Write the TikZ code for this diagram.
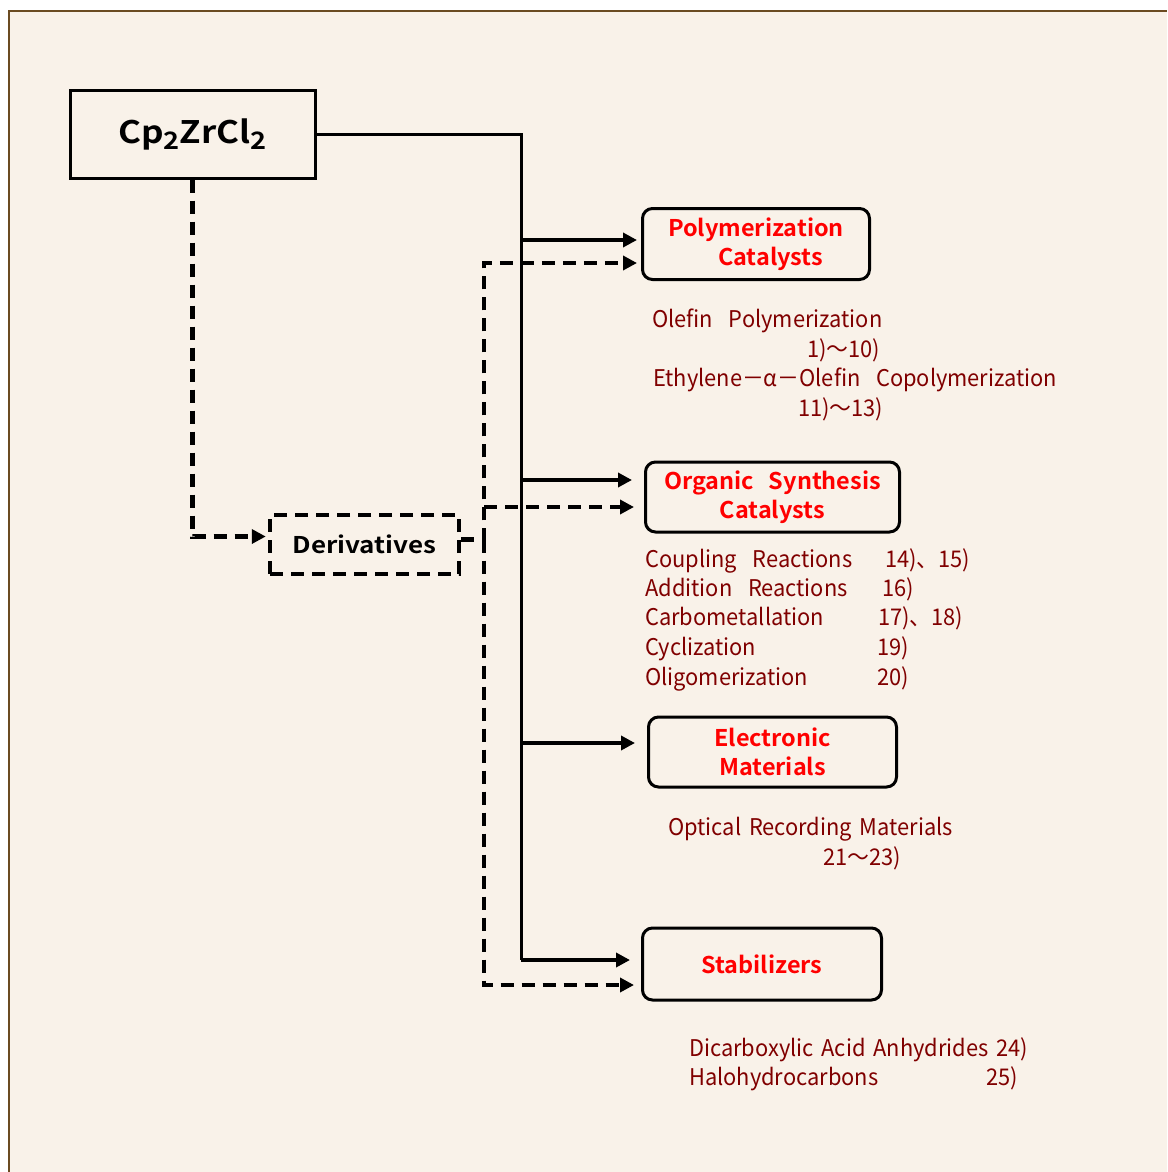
\documentclass[tikz,border=0pt]{standalone}
\usepackage{fontspec}
\setmainfont{Noto Sans CJK JP}[FakeStretch=0.95,WordSpace=1.6]
\newfontfamily\redbold{Noto Sans CJK JP Bold}[FakeStretch=1.02,WordSpace=1.4]
\newfontfamily\widebold{Noto Sans CJK JP Bold}[FakeStretch=1.13]
\usetikzlibrary{arrows.meta,calc,positioning}
\definecolor{paper}{RGB}{249,242,233}
\definecolor{rim}{RGB}{107,75,33}
\definecolor{refred}{RGB}{128,0,0}
\newcommand{\chemsub}[1]{\raisebox{-6pt}{\fontsize{24}{24}\selectfont #1}}

\begin{document}
\begin{tikzpicture}[x=1pt,y=-1pt,>={Triangle[length=14pt,width=14pt]},
    usebox/.style={draw,line width=3pt,rounded corners=10pt,align=center,
      text=red,font=\fontsize{23}{28.5}\redbold},
    reftext/.style={anchor=base west,text=refred,inner sep=0pt,
      font=\fontsize{23}{23}\selectfont},
    solidarr/.style={->,line width=4pt},
    dasharr/.style={->,line width=4.5pt,dash pattern=on 13pt off 8pt}]
    % page
    \useasboundingbox (0,0) rectangle (1167,1172);
    \fill[white] (0,0) rectangle (1167,1172);
    \fill[paper] (9,11) rectangle (1167,1172);
    \draw[rim,line width=2pt] (9,1172) -- (9,11) -- (1167,11);
    % source and its derivatives
    \node[draw,line width=3pt,minimum width=245pt,minimum height=88pt,
      font=\fontsize{31}{31}\widebold] (cp) at (192.5,134)
      {Cp\chemsub{2}ZrCl\chemsub{2}};
    \node[draw,line width=4.5pt,dash pattern=on 13pt off 8pt,minimum width=189pt,
      minimum height=59pt,font=\fontsize{23}{23}\widebold]
      (deriv) at (364.5,544.5) {Derivatives};
    % uses
    \node[usebox,minimum width=227pt,minimum height=71pt,align=left] (poly) at (756,244)
      {Polymerization\\\hspace*{50pt}Catalysts};
    \node[usebox,minimum width=254pt,minimum height=70pt] (org) at (772.5,497)
      {Organic\ \ Synthesis\\Catalysts};
    \node[usebox,minimum width=248pt,minimum height=70pt] (elec) at (772.5,752)
      {Electronic\\Materials};
    \node[usebox,minimum width=239pt,minimum height=72pt] (stab) at (762,964)
      {Stabilizers};
    % arrow ends
    \coordinate (tk) at (521,0);
    \coordinate (bs) at (484,0);
    \coordinate (p1) at ($(poly.west)+(-4,-4)$);
    \coordinate (p2) at ($(poly.west)+(-4,19)$);
    \coordinate (o1) at ($(org.west)+(-12,-17)$);
    \coordinate (o2) at ($(org.west)+(-10,10)$);
    \coordinate (e1) at ($(elec.west)+(-12,-9)$);
    \coordinate (s1) at ($(stab.west)+(-11,-4)$);
    \coordinate (s2) at ($(stab.west)+(-7,21)$);
    \coordinate (d0) at ($(deriv.west)+(-2,-8)$);
    \coordinate (d1) at ($(deriv.east)+(0,-5)$);
    % dashed routes via the derivatives
    \draw[dasharr] (cp.south) |- (d0);
    \draw[dasharr] (d1) -- (bs |- d1) |- (p2);
    \draw[dasharr] (bs |- d1) |- (s2);
    \draw[dasharr] (bs |- o2) -- (o2);
    % direct routes
    \draw[line width=3pt] (cp.east) -| (tk |- s1);
    \draw[solidarr] (tk |- p1) -- (p1);
    \draw[solidarr] (tk |- o1) -- (o1);
    \draw[solidarr] (tk |- e1) -- (e1);
    \draw[solidarr] (tk |- s1) -- (s1);
    % references
    \node[reftext] (olefin) at (652,327) {Olefin\ \ Polymerization};
    \node[reftext] (olefinref) at (807,357) {1)～10)};
    \node[reftext] (ethyl) at (653,386) {Ethylene－α－Olefin\ \ Copolymerization};
    \node[reftext] (ethylref) at (798,416) {11)～13)};
    \node[reftext] (coupl) at (645,567) {Coupling\ \ Reactions};
    \node[reftext] (couplref) at (885,567) {14)、15)};
    \node[reftext] (addn) at (645,596) {Addition\ \ Reactions};
    \node[reftext] (addnref) at (882,596) {16)};
    \node[reftext] (carbo) at (645,625) {Carbometallation};
    \node[reftext] (carboref) at (878,625) {17)、18)};
    \node[reftext] (cycl) at (645,655) {Cyclization};
    \node[reftext] (cyclref) at (877,655) {19)};
    \node[reftext] (oligo) at (645,685) {Oligomerization};
    \node[reftext] (oligoref) at (877,685) {20)};
    \node[reftext] (optic) at (668,835) {Optical Recording Materials};
    \node[reftext] (opticref) at (823,865) {21～23)};
    \node[reftext] (dicarb) at (689,1056) {Dicarboxylic Acid Anhydrides 24)};
    \node[reftext] (halo) at (689,1085) {Halohydrocarbons};
    \node[reftext] (haloref) at (986,1085) {25)};
\end{tikzpicture}
\end{document}
